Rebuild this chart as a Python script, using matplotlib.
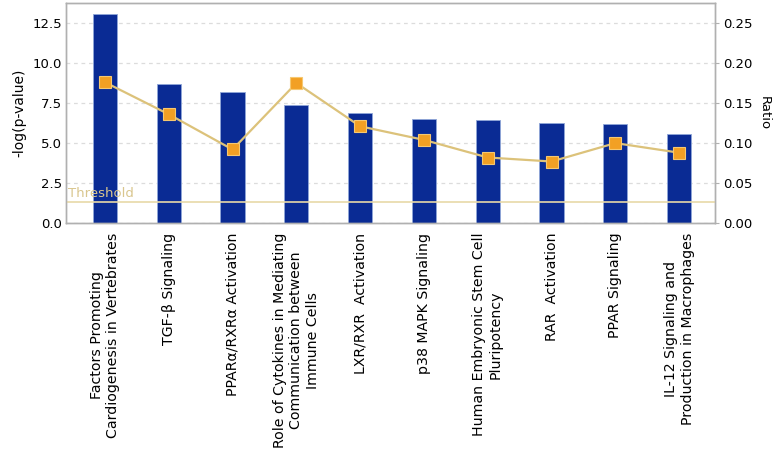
import matplotlib
matplotlib.use("Agg")
import matplotlib.pyplot as plt
import numpy as np

categories = [
    "Factors Promoting\nCardiogenesis in Vertebrates",
    "TGF-\u03b2 Signaling",
    "PPAR\u03b1/RXR\u03b1 Activation",
    "Role of Cytokines in Mediating\nCommunication between\nImmune Cells",
    "LXR/RXR  Activation",
    "p38 MAPK Signaling",
    "Human Embryonic Stem Cell\nPluripotency",
    "RAR  Activation",
    "PPAR Signaling",
    "IL-12 Signaling and\nProduction in Macrophages",
]
neg_log_p = [13.06, 8.69, 8.19, 7.35, 6.9, 6.5, 6.45, 6.25, 6.2, 5.56]
ratio = [0.176, 0.136, 0.092, 0.175, 0.121, 0.104, 0.082, 0.077, 0.100, 0.088]
threshold = 1.3
left_ticks = [0.0, 2.5, 5.0, 7.5, 10.0, 12.5]
right_ticks = [0.0, 0.05, 0.10, 0.15, 0.20, 0.25]

fig = plt.figure(figsize=(7.83, 4.62), dpi=100)
ax = fig.add_axes([0.0843, 0.517, 0.913 - 0.0843, 0.9935 - 0.517])
x = np.arange(len(categories))

ax.set_axisbelow(True)
ax.yaxis.grid(True, color="#dcdcdc", linestyle=(0, (3, 3)), linewidth=0.9)
ax.bar(x, neg_log_p, width=0.38, color="#0a2b94", edgecolor="#8fa6d8", linewidth=0.6, zorder=2)
ax.axhline(threshold, color="#e8d9a8", linewidth=1.2, zorder=3)
ax.text(-0.58, threshold + 0.15, "Threshold", color="#d9c68e", fontsize=9.5, va="bottom", ha="left", zorder=3)

ax.set_xlim(-0.61, 9.56)
ax.set_ylim(0, 13.75)
ax.set_yticks(left_ticks)
ax.set_yticklabels([f"{v:.1f}" for v in left_ticks], fontsize=9.5)
ax.set_ylabel("-log(p-value)", fontsize=10)
ax.set_xticks(x)
ax.set_xticklabels(categories, rotation=90, fontsize=10.2, ha="center", va="top",
                   multialignment="center", linespacing=1.25)
ax.tick_params(axis="x", length=0, pad=7)
ax.tick_params(axis="y", length=0, pad=3)

ax2 = ax.twinx()
ax2.plot(x, ratio, color="#dcc27a", linewidth=1.6, zorder=4)
ax2.plot(x, ratio, linestyle="none", marker="s", markersize=8, markerfacecolor="#f2a024",
         markeredgecolor="#f6c870", markeredgewidth=0.8, zorder=5)
ax2.set_ylim(0, 0.275)
ax2.set_yticks(right_ticks)
ax2.set_yticklabels([f"{v:.2f}" for v in right_ticks], fontsize=9.5)
ax2.set_ylabel("Ratio", rotation=-90, labelpad=13, fontsize=9.5)
ax2.tick_params(axis="y", length=3, color="#b0b0b0", pad=3)

for a in (ax, ax2):
    for s in a.spines.values():
        s.set_color("#b0b0b0")
        s.set_linewidth(1.0)

fig.savefig("out.png", dpi=100)
